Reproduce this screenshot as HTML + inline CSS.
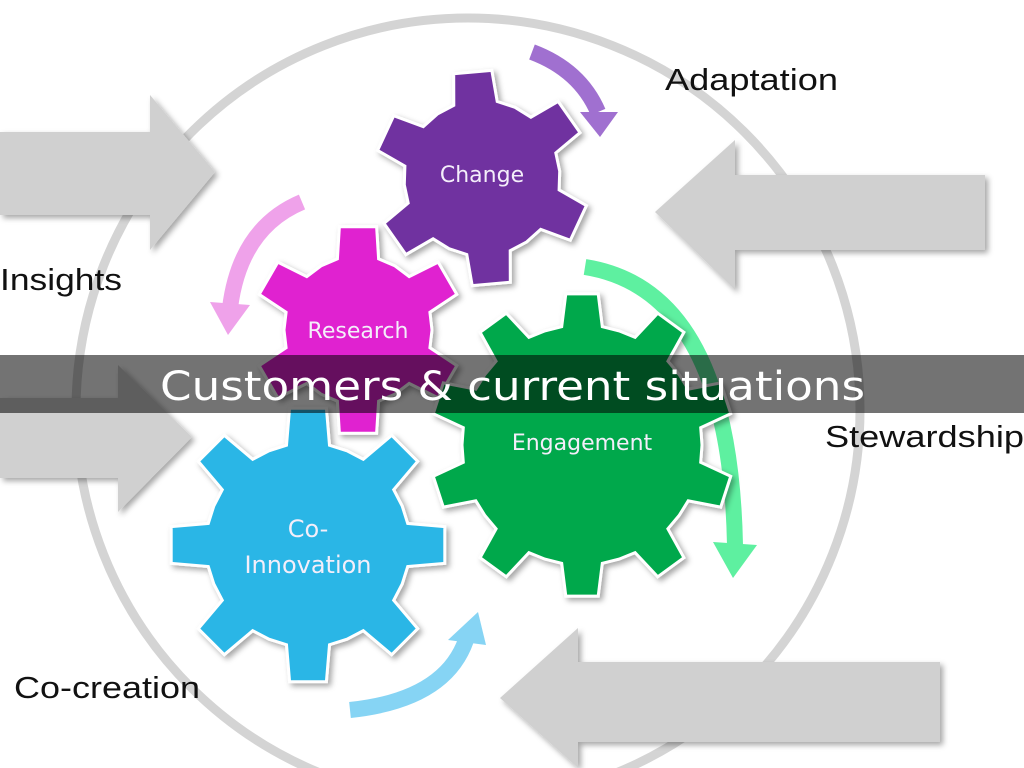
<!DOCTYPE html>
<html><head><meta charset="utf-8"><style>
html,body{margin:0;padding:0;background:#fff;width:1024px;height:768px;overflow:hidden}
svg{display:block}
</style></head><body>
<svg id="s" width="1024" height="768" viewBox="0 0 1024 768" xmlns="http://www.w3.org/2000/svg">
<defs><filter id="sh" x="-20%" y="-20%" width="140%" height="140%"><feDropShadow dx="3" dy="3" stdDeviation="3" flood-color="#000" flood-opacity="0.35"/></filter></defs>
<circle cx="468" cy="410" r="392" fill="none" stroke="#d4d4d4" stroke-width="9"/>
<g filter="url(#sh)">
<polygon points="0,132 150,132 150,95 215,172 150,250 150,215 0,215" fill="#d0d0d0"/>
<polygon points="0,398 118,398 118,365 192,437 118,512 118,478 0,478" fill="#d0d0d0"/>
<polygon points="985,175 735,175 735,140 655,212 735,290 735,250 985,250" fill="#d0d0d0"/>
<polygon points="940,662 578,662 578,628 500,698 578,768 578,742 940,742" fill="#d0d0d0"/>
</g>
<path d="M532,52 Q580,70 598,112" fill="none" stroke="#a070d0" stroke-width="16"/>
<polygon points="580,112 618,112 600,137" fill="#a070d0"/>
<path d="M302,202 Q240,228 230,308" fill="none" stroke="#efa2ea" stroke-width="16"/>
<polygon points="210,302 250,305 228,335" fill="#efa2ea"/>
<path d="M585,267 Q730,290 735,545" fill="none" stroke="#5ef0a0" stroke-width="16"/>
<polygon points="713,542 757,545 733,578" fill="#5ef0a0"/>
<path d="M350,710 Q445,700 466,640" fill="none" stroke="#86d4f4" stroke-width="16"/>
<polygon points="448,640 486,645 478,612" fill="#86d4f4"/>
<g id="gears" filter="url(#sh)"></g>
<g font-family="Liberation Sans, sans-serif" font-size="31" fill="#111">
<text x="665" y="90" textLength="173" lengthAdjust="spacingAndGlyphs">Adaptation</text>
<text x="0" y="290" textLength="122" lengthAdjust="spacingAndGlyphs">Insights</text>
<text x="825" y="447" textLength="199" lengthAdjust="spacingAndGlyphs">Stewardship</text>
<text x="14" y="698" textLength="186" lengthAdjust="spacingAndGlyphs">Co-creation</text>
</g>
<g font-family="DejaVu Sans, sans-serif" fill="#f4eefa" text-anchor="middle">
<text x="482" y="182" font-size="22">Change</text>
<text x="358" y="338" font-size="22">Research</text>
<text x="582" y="450" font-size="22">Engagement</text>
<text x="308" y="537" font-size="24">Co-</text>
<text x="308" y="573" font-size="24">Innovation</text>
</g>
<rect x="0" y="355" width="1024" height="58" fill="rgba(0,0,0,0.55)"/>
<text x="160" y="400" font-family="DejaVu Sans, sans-serif" font-size="40" fill="#fff" textLength="705" lengthAdjust="spacingAndGlyphs">Customers &amp; current situations</text>
</svg>
<script>
function gear(cx,cy,ro,ri,n,rot,col){
 var p=[],step=Math.PI*2/n;
 for(var i=0;i<n;i++){
  var a=rot*Math.PI/180+i*step;
  var pts=[[ri,a-step*0.5],[ri,a-step*0.27],[ro,a-step*0.17],[ro,a+step*0.17],[ri,a+step*0.27]];
  pts.forEach(function(q){p.push((cx+q[0]*Math.sin(q[1])).toFixed(1)+","+(cy-q[0]*Math.cos(q[1])).toFixed(1));});
 }
 return '<polygon points="'+p.join(" ")+'" fill="'+col+'" stroke="#fff" stroke-width="3"/>';
}
var g=document.getElementById("gears");
g.innerHTML=
 gear(482,178,108,78,6,-5,"#7030a0")+
 gear(358,330,105,74,6,0,"#e020d0")+
 gear(582,445,152,120,10,0,"#00a84c")+
 gear(308,545,138,102,8,0,"#29b6e6");
</script>
</body></html>
